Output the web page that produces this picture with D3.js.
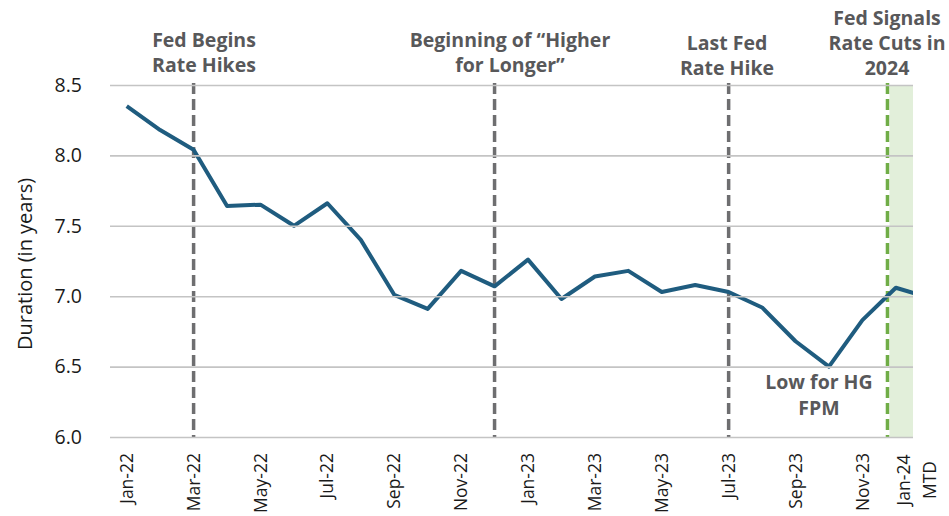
<!DOCTYPE html>
<html>
<head>
<meta charset="utf-8">
<script src="https://cdn.jsdelivr.net/npm/d3@7"></script>
<style>
  body { margin: 0; background: #fff; }
  text { font-family: "Open Sans", sans-serif; }
</style>
</head>
<body>
<svg id="chart"></svg>
<script>
// monthly duration of the HG FPM, Jan-22 .. Jan-24 MTD
let months = ["Jan-22", "Feb-22", "Mar-22", "Apr-22", "May-22", "Jun-22", "Jul-22", "Aug-22",
  "Sep-22", "Oct-22", "Nov-22", "Dec-22", "Jan-23", "Feb-23", "Mar-23", "Apr-23", "May-23",
  "Jun-23", "Jul-23", "Aug-23", "Sep-23", "Oct-23", "Nov-23", "Dec-23", "Jan-24"];
let duration = [8.35, 8.18, 8.04, 7.64, 7.65, 7.50, 7.66, 7.40,
  7.01, 6.91, 7.18, 7.07, 7.26, 6.98, 7.14, 7.18, 7.03,
  7.08, 7.03, 6.92, 6.68, 6.50, 6.83, 7.06, 6.99];
let labelMonths = ["Jan-22", "Mar-22", "May-22", "Jul-22", "Sep-22", "Nov-22", "Jan-23",
  "Mar-23", "May-23", "Jul-23", "Sep-23", "Nov-23", "Jan-24"];
let yTicks = [6.0, 6.5, 7.0, 7.5, 8.0, 8.5];

// events: position as month index (fractional for mid-month)
let eventPos = [2, 11, 18, 22.75];
let eventText = [["Fed Begins", "Rate Hikes"], ["Beginning of \u201cHigher", "for Longer\u201d"],
  ["Last Fed", "Rate Hike"], ["Fed Signals", "Rate Cuts in", "2024"]];

let width = 949, height = 516;
let svg = d3.select("#chart").attr("width", width).attr("height", height);

let pLeft = 110, pRight = 946, pTop = 85, pBottom = 437, clipRight = 913;

let x = d3.scalePoint().domain(months).range([pLeft, pRight]).padding(0.5);
let step = x.step();
let xi = i => x(months[0]) + i * step;
let y = d3.scaleLinear().domain([6, 8.5]).range([pBottom, pTop]);

svg.append("defs").append("clipPath").attr("id", "plotclip")
  .append("rect")
  .attr("x", pLeft).attr("y", 0)
  .attr("width", clipRight - pLeft).attr("height", height);

let plot = svg.append("g").attr("clip-path", "url(#plotclip)");

// shaded area after rate cut signal
plot.append("rect")
  .attr("x", xi(eventPos[3]) + 2)
  .attr("y", pTop)
  .attr("width", pRight - xi(eventPos[3]))
  .attr("height", pBottom - pTop)
  .attr("fill", "#E2EFDA");

// gridlines
let yAxis = d3.axisLeft(y).tickValues(yTicks).tickFormat(d3.format(".1f")).tickSize(-(pRight - pLeft)).tickPadding(28);
let ga = svg.append("g").attr("transform", `translate(${pLeft},0)`).call(yAxis);
ga.select(".domain").remove();
ga.selectAll(".tick line").attr("stroke", "#C4C4C4").attr("stroke-width", 1.6)
  .attr("x2", clipRight - pLeft);
ga.selectAll(".tick text").attr("font-size", 19.5).attr("fill", "#1a1a1a")
  .attr("font-family", "Open Sans, sans-serif");

// event lines
plot.selectAll(".evt").data(eventPos).enter().append("line")
  .attr("x1", d => xi(d)).attr("x2", d => xi(d))
  .attr("y1", pTop - 2).attr("y2", pBottom + 1)
  .attr("stroke", (d, i) => i == 3 ? "#70AD47" : "#6E6E70")
  .attr("stroke-width", 3.5)
  .attr("stroke-dasharray", "11,5");

// data line
let line = d3.line().x((d, i) => x(months[i])).y(d => y(d));
plot.append("path").datum(duration)
  .attr("d", line)
  .attr("fill", "none")
  .attr("stroke", "#1F5C7F")
  .attr("stroke-width", 4)
  .attr("stroke-linejoin", "round");

// x labels
let xl = svg.append("g");
labelMonths.forEach(function(m) {
  let t = xl.append("text")
    .attr("transform", `translate(${x(m)},453) rotate(-90)`)
    .attr("font-size", 17.5)
    .attr("fill", "#1a1a1a");
  if (m == "Jan-24") {
    t.attr("text-anchor", "middle");
    t.append("tspan").attr("x", -27).attr("dy", "-1.1em").text("Jan-24");
    t.append("tspan").attr("x", -27).attr("dy", "1.5em").text("MTD");
  } else {
    t.attr("text-anchor", "end").attr("dy", "0.35em").text(m);
  }
});

// y title
svg.append("text")
  .attr("transform", "translate(32,264) rotate(-90)")
  .attr("text-anchor", "middle")
  .attr("font-size", 20)
  .attr("fill", "#1a1a1a")
  .text("Duration (in years)");

// annotations
let annX = [204, 510, 727, 887];
let annY = [47, 47, 50, 25];
eventText.forEach(function(lines, k) {
  let t = svg.append("text")
    .attr("text-anchor", "middle")
    .attr("font-size", 19.5)
    .attr("font-weight", "bold")
    .attr("fill", "#58585A");
  lines.forEach(function(s, j) {
    t.append("tspan").attr("x", annX[k]).attr("y", annY[k] + j * 25).text(s);
  });
});

let low = svg.append("text")
  .attr("text-anchor", "middle")
  .attr("font-size", 19.5)
  .attr("font-weight", "bold")
  .attr("fill", "#58585A");
low.append("tspan").attr("x", x("Oct-23") - 10).attr("y", 389).text("Low for HG");
low.append("tspan").attr("x", x("Oct-23") - 10).attr("y", 415).text("FPM");
</script>
</body>
</html>
